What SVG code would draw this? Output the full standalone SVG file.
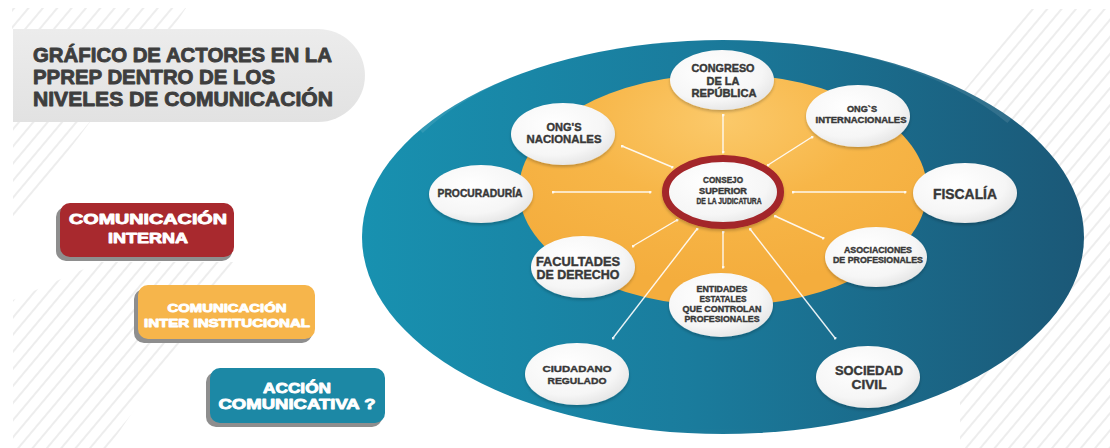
<svg xmlns="http://www.w3.org/2000/svg" width="1110" height="448" viewBox="0 0 1110 448">
<defs>
<style>
.t{font-family:"Liberation Sans",Arial,sans-serif;font-weight:bold;text-anchor:middle;paint-order:stroke;stroke-linejoin:round;}
.nt{fill:#383838;stroke:#383838;stroke-width:0.4;}
.lt{fill:#ffffff;stroke:#ffffff;stroke-width:0.9;}
.tt{fill:#3e3e3e;stroke:#3e3e3e;stroke-width:0.9;text-anchor:start;}
.node{fill:url(#nodeGrad);filter:url(#sh);}
.conn{stroke:#ffffff;stroke-width:1.4;fill:none;opacity:0.9;marker-start:url(#dot);marker-end:url(#dot);}
.stripe{fill:url(#stripes);}
</style>
<pattern id="stripes" width="11" height="11" patternUnits="userSpaceOnUse" patternTransform="rotate(40)">
<line x1="5" y1="0" x2="5" y2="11" stroke="#e5e5e5" stroke-width="1.4"/>
</pattern>
<marker id="dot" viewBox="0 0 4 4" refX="2" refY="2" markerWidth="3" markerHeight="3" markerUnits="userSpaceOnUse">
<circle cx="2" cy="2" r="2" fill="#ffffff"/>
</marker>
<linearGradient id="outerGrad" x1="0" y1="0" x2="1" y2="0">
<stop offset="0" stop-color="#1891b0"/>
<stop offset="0.45" stop-color="#1a7c9d"/>
<stop offset="1" stop-color="#1b5877"/>
</linearGradient>
<radialGradient id="bottomGlow" cx="0.5" cy="1" r="0.6">
<stop offset="0" stop-color="#ffffff" stop-opacity="0.35"/>
<stop offset="1" stop-color="#ffffff" stop-opacity="0"/>
</radialGradient>
<radialGradient id="orangeGrad" cx="0.5" cy="0.2" r="0.7">
<stop offset="0" stop-color="#fbc96a"/>
<stop offset="0.5" stop-color="#f7b648"/>
<stop offset="1" stop-color="#f4ad3d"/>
</radialGradient>
<radialGradient id="nodeGrad" cx="0.4" cy="0.35" r="0.7">
<stop offset="0" stop-color="#ffffff"/>
<stop offset="0.7" stop-color="#f6f6f6"/>
<stop offset="1" stop-color="#e4e4e4"/>
</radialGradient>
<linearGradient id="titleGrad" x1="0" y1="0" x2="0" y2="1">
<stop offset="0" stop-color="#ececec"/>
<stop offset="1" stop-color="#e2e2e2"/>
</linearGradient>
<filter id="sh" x="-20%" y="-20%" width="140%" height="150%">
<feDropShadow dx="0" dy="2" stdDeviation="1.5" flood-color="#000" flood-opacity="0.22"/>
</filter>
<clipPath id="outerClip"><ellipse cx="723" cy="237" rx="361" ry="197"/></clipPath>
</defs>

<rect width="1110" height="448" fill="#ffffff"/>

<g id="background-stripes">
<polygon class="stripe" points="12,8 186,8 172,29 12,29"/>
<polygon class="stripe" points="13,122 90,122 13,225"/>
<polygon class="stripe" points="13,300 100,262 236,262 108,448 13,448"/>
<polygon class="stripe" points="1030,9 1110,9 1110,448 960,448 960,95"/>
</g>

<g id="title">
<path d="M13,29 H318 A47,46.5 0 0 1 318,122 H13 Z" fill="url(#titleGrad)"/>
<text class="t tt" x="33" y="62" font-size="21" textLength="299" lengthAdjust="spacingAndGlyphs">GRÁFICO DE ACTORES EN LA</text>
<text class="t tt" x="33" y="84" font-size="21" textLength="242" lengthAdjust="spacingAndGlyphs">PPREP DENTRO DE LOS</text>
<text class="t tt" x="33" y="106" font-size="21" textLength="300" lengthAdjust="spacingAndGlyphs">NIVELES DE COMUNICACIÓN</text>
</g>

<g id="legend-interna">
<rect x="56" y="207" width="176" height="54" rx="10" fill="#8e8e8e"/>
<rect x="60" y="203" width="174" height="54" rx="10" fill="#a8292e"/>
<text class="t lt" x="148" y="224" font-size="15" textLength="158" lengthAdjust="spacingAndGlyphs">COMUNICACIÓN</text>
<text class="t lt" x="148" y="243" font-size="15" textLength="80" lengthAdjust="spacingAndGlyphs">INTERNA</text>
</g>

<g id="legend-interinstitucional">
<rect x="134" y="289" width="178" height="54" rx="10" fill="#8e8e8e"/>
<rect x="138" y="285" width="177" height="54" rx="10" fill="#f6b54b"/>
<text class="t lt" x="227" y="311.5" font-size="11.5" textLength="119" lengthAdjust="spacingAndGlyphs">COMUNICACIÓN</text>
<text class="t lt" x="227" y="327" font-size="11.5" textLength="166" lengthAdjust="spacingAndGlyphs">INTER INSTITUCIONAL</text>
</g>

<g id="legend-accion">
<rect x="206" y="372" width="176" height="55" rx="10" fill="#8e8e8e"/>
<rect x="210" y="368" width="175" height="55" rx="10" fill="#1c88a5"/>
<text class="t lt" x="297" y="392.5" font-size="15" textLength="68" lengthAdjust="spacingAndGlyphs">ACCIÓN</text>
<text class="t lt" x="297" y="409" font-size="15" textLength="157" lengthAdjust="spacingAndGlyphs">COMUNICATIVA ?</text>
</g>

<g id="outer-ring">
<ellipse cx="723" cy="237" rx="361" ry="197" fill="url(#outerGrad)"/>
<g clip-path="url(#outerClip)">
<ellipse cx="723" cy="450" rx="330" ry="110" fill="url(#bottomGlow)"/>
<path d="M420,130 A345,186 0 0 1 1010,120" fill="none" stroke="#ffffff" stroke-opacity="0.1" stroke-width="8"/>
</g>
</g>

<g id="inner-ring">
<ellipse cx="723" cy="190" rx="204" ry="116" fill="url(#orangeGrad)"/>
</g>

<g id="connectors">
<line class="conn" x1="723" y1="115" x2="723" y2="152"/>
<line class="conn" x1="622" y1="146" x2="672" y2="167"/>
<line class="conn" x1="812" y1="137" x2="768" y2="165"/>
<line class="conn" x1="553" y1="192" x2="650" y2="192"/>
<line class="conn" x1="905" y1="192" x2="793" y2="192"/>
<line class="conn" x1="823" y1="238" x2="775" y2="216"/>
<line class="conn" x1="633" y1="246" x2="677" y2="220"/>
<line class="conn" x1="723" y1="267" x2="723" y2="232"/>
<line class="conn" x1="613" y1="338" x2="697" y2="229"/>
<line class="conn" x1="835" y1="338" x2="750" y2="229"/>
</g>

<g id="node-consejo">
<ellipse cx="723" cy="192" rx="57.5" ry="33.5" fill="url(#nodeGrad)" stroke="#a3252a" stroke-width="7" filter="url(#sh)"/>
<text class="t nt" x="723" y="183.3" font-size="8.5" textLength="40" lengthAdjust="spacingAndGlyphs">CONSEJO</text>
<text class="t nt" x="723" y="194" font-size="8.5" textLength="48" lengthAdjust="spacingAndGlyphs">SUPERIOR</text>
<text class="t nt" x="729" y="204" font-size="8.5" textLength="65" lengthAdjust="spacingAndGlyphs">DE LA JUDICATURA</text>
</g>

<g id="node-congreso">
<ellipse class="node" cx="722" cy="80" rx="52" ry="30"/>
<text class="t nt" x="723" y="72.3" font-size="10" textLength="63" lengthAdjust="spacingAndGlyphs">CONGRESO</text>
<text class="t nt" x="723" y="85" font-size="10" textLength="33" lengthAdjust="spacingAndGlyphs">DE LA</text>
<text class="t nt" x="724" y="97.3" font-size="10" textLength="65" lengthAdjust="spacingAndGlyphs">REPÚBLICA</text>
</g>

<g id="node-ong-internacionales">
<ellipse class="node" cx="858" cy="116" rx="52" ry="31"/>
<text class="t nt" x="862" y="111.7" font-size="8.5" textLength="30" lengthAdjust="spacingAndGlyphs">ONG`S</text>
<text class="t nt" x="861" y="122.7" font-size="8.5" textLength="91" lengthAdjust="spacingAndGlyphs">INTERNACIONALES</text>
</g>

<g id="node-ong-nacionales">
<ellipse class="node" cx="563" cy="134" rx="52" ry="31"/>
<text class="t nt" x="564" y="130.7" font-size="11" textLength="35" lengthAdjust="spacingAndGlyphs">ONG'S</text>
<text class="t nt" x="564" y="143.3" font-size="11" textLength="75" lengthAdjust="spacingAndGlyphs">NACIONALES</text>
</g>

<g id="node-procuraduria">
<ellipse class="node" cx="481" cy="194" rx="52" ry="29"/>
<text class="t nt" x="480" y="197.3" font-size="10" textLength="85" lengthAdjust="spacingAndGlyphs">PROCURADURÍA</text>
</g>

<g id="node-fiscalia">
<ellipse class="node" cx="965" cy="193" rx="52" ry="30"/>
<text class="t nt" x="965" y="199.3" font-size="15" textLength="64" lengthAdjust="spacingAndGlyphs">FISCALÍA</text>
</g>

<g id="node-asociaciones">
<ellipse class="node" cx="876" cy="257" rx="51" ry="30"/>
<text class="t nt" x="878" y="252.7" font-size="8.5" textLength="68" lengthAdjust="spacingAndGlyphs">ASOCIACIONES</text>
<text class="t nt" x="878" y="262.7" font-size="8.5" textLength="90" lengthAdjust="spacingAndGlyphs">DE PROFESIONALES</text>
</g>

<g id="node-facultades">
<ellipse class="node" cx="583" cy="267" rx="52" ry="31"/>
<text class="t nt" x="578" y="266" font-size="12" textLength="84" lengthAdjust="spacingAndGlyphs">FACULTADES</text>
<text class="t nt" x="578" y="278.7" font-size="12" textLength="83" lengthAdjust="spacingAndGlyphs">DE DERECHO</text>
</g>

<g id="node-entidades">
<ellipse class="node" cx="721" cy="305" rx="52" ry="32"/>
<text class="t nt" x="722" y="292" font-size="8.5" textLength="51" lengthAdjust="spacingAndGlyphs">ENTIDADES</text>
<text class="t nt" x="723" y="302" font-size="8.5" textLength="47" lengthAdjust="spacingAndGlyphs">ESTATALES</text>
<text class="t nt" x="722" y="311.7" font-size="8.5" textLength="79" lengthAdjust="spacingAndGlyphs">QUE CONTROLAN</text>
<text class="t nt" x="722" y="321.7" font-size="8.5" textLength="75" lengthAdjust="spacingAndGlyphs">PROFESIONALES</text>
</g>

<g id="node-ciudadano">
<ellipse class="node" cx="577" cy="374" rx="52" ry="31"/>
<text class="t nt" x="577" y="371.7" font-size="9.5" textLength="69" lengthAdjust="spacingAndGlyphs">CIUDADANO</text>
<text class="t nt" x="577" y="384" font-size="9.5" textLength="59" lengthAdjust="spacingAndGlyphs">REGULADO</text>
</g>

<g id="node-sociedad">
<ellipse class="node" cx="868" cy="377" rx="52" ry="31"/>
<text class="t nt" x="869" y="375" font-size="12.5" textLength="68" lengthAdjust="spacingAndGlyphs">SOCIEDAD</text>
<text class="t nt" x="869" y="389.3" font-size="12.5" textLength="35" lengthAdjust="spacingAndGlyphs">CIVIL</text>
</g>
</svg>
